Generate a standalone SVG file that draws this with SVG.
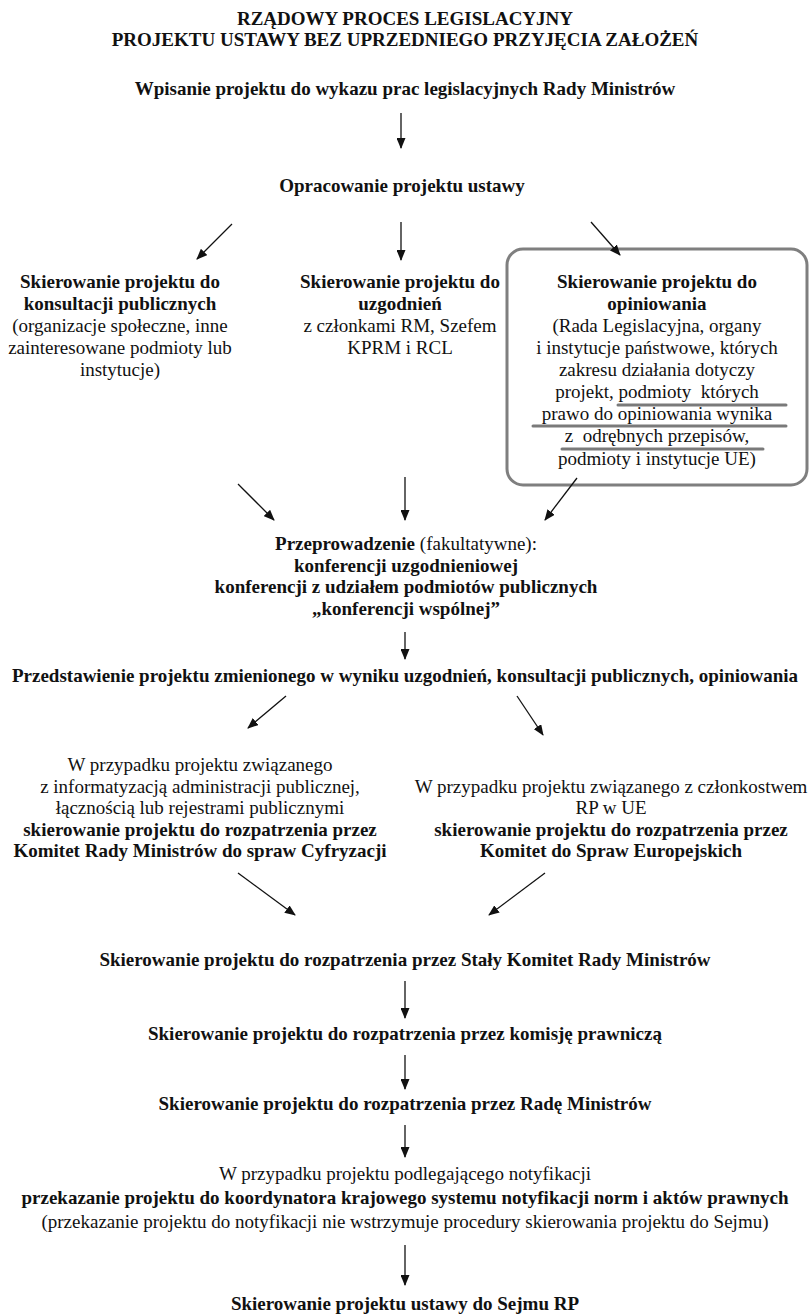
<svg xmlns="http://www.w3.org/2000/svg" width="811" height="1316" viewBox="0 0 811 1316">
<style>
text{font-family:"Liberation Serif","Times New Roman",serif;font-size:19px;fill:#111;text-anchor:middle}
.b{font-weight:bold}
.c{stroke:#111;stroke-width:1.3;fill:none;marker-end:url(#ah)}
.box{fill:none;stroke:#7f7f7f;stroke-width:3}
.ul{stroke:#7a7a7a;stroke-width:3;stroke-linecap:round}
</style>
<defs>
<marker id="ah" markerUnits="userSpaceOnUse" markerWidth="11" markerHeight="9" refX="10" refY="4.5" orient="auto">
<path d="M0,0 L11,4.5 L0,9 z" fill="#111"/>
</marker>
</defs>
<rect width="811" height="1316" fill="#fff"/>
<g id="title">
<text class="b" x="405" y="25">RZĄDOWY PROCES LEGISLACYJNY</text>
<text class="b" x="405" y="46">PROJEKTU USTAWY BEZ UPRZEDNIEGO PRZYJĘCIA ZAŁOŻEŃ</text>
</g>
<g id="n1"><text class="b" x="405" y="95">Wpisanie projektu do wykazu prac legislacyjnych Rady Ministrów</text></g>
<g id="n2"><text class="b" x="402" y="192">Opracowanie projektu ustawy</text></g>
<g id="n3">
<text class="b" x="120" y="288">Skierowanie projektu do</text>
<text class="b" x="120" y="310">konsultacji publicznych</text>
<text x="120" y="332">(organizacje społeczne, inne</text>
<text x="120" y="354">zainteresowane podmioty lub</text>
<text x="120" y="376">instytucje)</text>
</g>
<g id="n4">
<text class="b" x="400" y="288">Skierowanie projektu do</text>
<text class="b" x="400" y="310">uzgodnień</text>
<text x="400" y="332">z członkami RM, Szefem</text>
<text x="400" y="354">KPRM i RCL</text>
</g>
<g id="n5">
<rect class="box" x="507" y="249" width="300" height="236" rx="16"/>
<text class="b" x="657" y="288">Skierowanie projektu do</text>
<text class="b" x="657" y="310">opiniowania</text>
<text x="657" y="332">(Rada Legislacyjna, organy</text>
<text x="657" y="354">i instytucje państwowe, których</text>
<text x="657" y="376">zakresu działania dotyczy</text>
<text x="657" y="398" xml:space="preserve">projekt, podmioty  których</text>
<text x="657" y="420">prawo do opiniowania wynika</text>
<text x="657" y="442" xml:space="preserve">z  odrębnych przepisów,</text>
<text x="657" y="465">podmioty i instytucje UE)</text>
<line class="ul" x1="618" y1="405" x2="786" y2="405"/>
<line class="ul" x1="533" y1="426" x2="786" y2="426"/>
<line class="ul" x1="562" y1="449" x2="763" y2="449"/>
</g>
<g id="n6">
<text x="406" y="550"><tspan class="b">Przeprowadzenie</tspan> (fakultatywne):</text>
<text class="b" x="406" y="572">konferencji uzgodnieniowej</text>
<text class="b" x="406" y="593">konferencji z udziałem podmiotów publicznych</text>
<text class="b" x="406" y="615">„konferencji wspólnej”</text>
</g>
<g id="n7"><text class="b" x="405" y="682">Przedstawienie projektu zmienionego w wyniku uzgodnień, konsultacji publicznych, opiniowania</text></g>
<g id="n8">
<text x="200" y="771">W przypadku projektu związanego</text>
<text x="200" y="793">z informatyzacją administracji publicznej,</text>
<text x="200" y="814">łącznością lub rejestrami publicznymi</text>
<text class="b" x="200" y="836">skierowanie projektu do rozpatrzenia przez</text>
<text class="b" x="200" y="857">Komitet Rady Ministrów do spraw Cyfryzacji</text>
</g>
<g id="n9">
<text x="611" y="793">W przypadku projektu związanego z członkostwem</text>
<text x="611" y="814">RP w UE</text>
<text class="b" x="611" y="836">skierowanie projektu do rozpatrzenia przez</text>
<text class="b" x="611" y="857">Komitet do Spraw Europejskich</text>
</g>
<g id="n10"><text class="b" x="405" y="966">Skierowanie projektu do rozpatrzenia przez Stały Komitet Rady Ministrów</text></g>
<g id="n11"><text class="b" x="405" y="1040">Skierowanie projektu do rozpatrzenia przez komisję prawniczą</text></g>
<g id="n12"><text class="b" x="405" y="1110">Skierowanie projektu do rozpatrzenia przez Radę Ministrów</text></g>
<g id="n13">
<text x="405" y="1180">W przypadku projektu podlegającego notyfikacji</text>
<text class="b" x="405" y="1204">przekazanie projektu do koordynatora krajowego systemu notyfikacji norm i aktów prawnych</text>
<text x="405" y="1228">(przekazanie projektu do notyfikacji nie wstrzymuje procedury skierowania projektu do Sejmu)</text>
</g>
<g id="n14"><text class="b" x="405" y="1310">Skierowanie projektu ustawy do Sejmu RP</text></g>
<g id="connectors">
<line class="c" x1="401" y1="113" x2="401" y2="148"/>
<line class="c" x1="232" y1="224" x2="197" y2="259"/>
<line class="c" x1="401" y1="222" x2="401" y2="260"/>
<line class="c" x1="591" y1="222" x2="620" y2="255"/>
<line class="c" x1="238" y1="484" x2="274" y2="520"/>
<line class="c" x1="405" y1="477" x2="405" y2="520"/>
<line class="c" x1="577" y1="478" x2="545" y2="520"/>
<line class="c" x1="405" y1="632" x2="405" y2="659"/>
<line class="c" x1="286" y1="696" x2="248" y2="728"/>
<line class="c" x1="517" y1="696" x2="543" y2="735"/>
<line class="c" x1="238" y1="873" x2="295" y2="915"/>
<line class="c" x1="545" y1="873" x2="489" y2="915"/>
<line class="c" x1="405" y1="981" x2="405" y2="1018"/>
<line class="c" x1="405" y1="1055" x2="405" y2="1089"/>
<line class="c" x1="405" y1="1125" x2="405" y2="1157"/>
<line class="c" x1="405" y1="1245" x2="405" y2="1285"/>
</g>
</svg>
